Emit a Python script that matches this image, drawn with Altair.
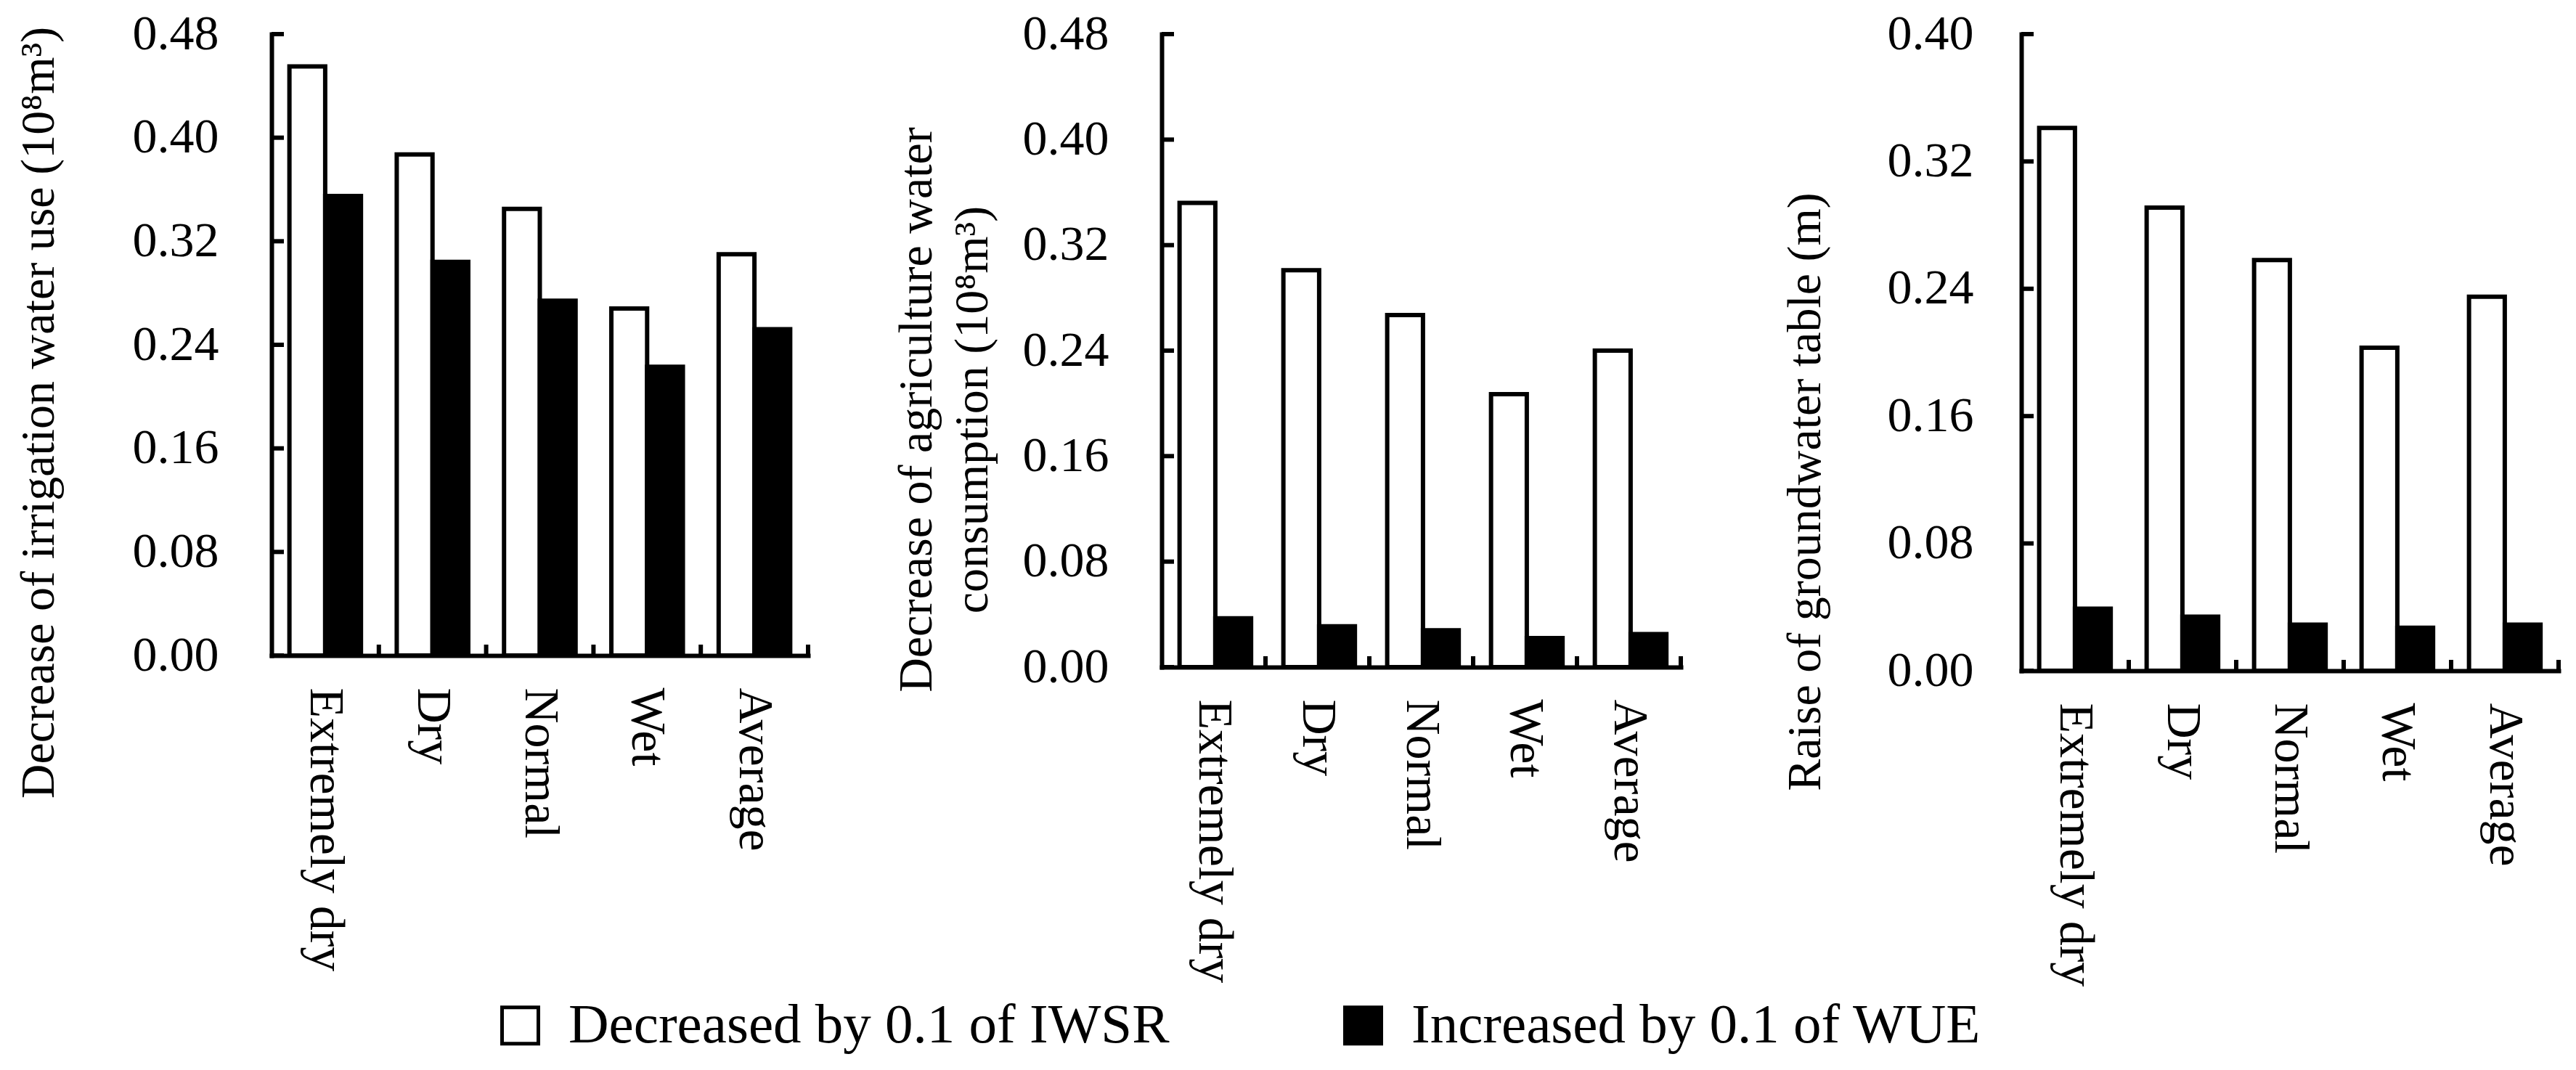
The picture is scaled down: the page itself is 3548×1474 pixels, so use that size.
import altair as alt
import pandas as pd

categories = ["Extremely dry", "Dry", "Normal", "Wet", "Average"]
series = ["Decreased by 0.1 of IWSR", "Increased by 0.1 of WUE"]

irrigation_iwsr = [0.455, 0.387, 0.345, 0.268, 0.310]
irrigation_wue = [0.355, 0.304, 0.274, 0.223, 0.252]
consumption_iwsr = [0.352, 0.301, 0.267, 0.207, 0.240]
consumption_wue = [0.037, 0.031, 0.028, 0.022, 0.025]
groundwater_iwsr = [0.341, 0.291, 0.258, 0.203, 0.235]
groundwater_wue = [0.039, 0.034, 0.029, 0.027, 0.029]

ticks_048 = [0.0, 0.08, 0.16, 0.24, 0.32, 0.40, 0.48]
ticks_040 = [0.0, 0.08, 0.16, 0.24, 0.32, 0.40]

title_1 = "Decrease of irrigation water use (10\u2078m\u00b3)"
title_2 = ["Decrease of agriculture water", "consumption (10\u2078m\u00b3)"]
title_3 = "Raise of groundwater table  (m)"

FONT = "Liberation Serif"

legend = alt.Legend(
    title=None, orient="none", legendX=304, legendY=1327, direction="horizontal",
    symbolType="square", symbolSize=2500, symbolStrokeColor="black", symbolStrokeWidth=5,
    labelFont=FONT, labelFontSize=77, labelColor="black", labelOffset=28, labelLimit=3000,
    columnPadding=228, symbolOpacity=1,
)


def panel(iwsr, wue, ticks, ymax, title, width, height, title_x, title_y, label_pad):
    df = pd.DataFrame({
        "category": categories * 2,
        "series": [series[0]] * len(categories) + [series[1]] * len(categories),
        "value": list(iwsr) + list(wue),
    })
    xscale = alt.Scale(paddingInner=0, paddingOuter=0)
    yscale = alt.Scale(domain=[0, ymax], nice=False, zero=True)
    xaxis = alt.Axis(title=None, labelAngle=90, labelAlign="left", labelBaseline="middle",
                     ticks=False, tickSize=0, labelPadding=44, labelFont=FONT,
                     labelFontSize=68, labelColor="black", labelLimit=3000,
                     domainColor="black", domainWidth=6, domainCap="square", grid=False)
    yaxis = alt.Axis(values=ticks, format=".2f", title=title, titleX=title_x,
                     titleY=title_y, titleBaseline="alphabetic", titleFont=FONT,
                     titleFontSize=66, titleFontWeight="normal", titleColor="black",
                     titleLineHeight=77, titleLimit=3000, ticks=False, tickSize=0,
                     labelPadding=label_pad, labelFont=FONT, labelFontSize=68,
                     labelColor="black", domainColor="black", domainWidth=6,
                     domainCap="square", grid=False)
    bars = alt.Chart(df).mark_bar(stroke="black", strokeWidth=6, strokeJoin="miter").encode(
        x=alt.X("category:N", sort=categories, scale=xscale, axis=xaxis),
        xOffset=alt.XOffset("series:N", sort=series,
                            scale=alt.Scale(paddingOuter=0.5, paddingInner=0)),
        y=alt.Y("value:Q", scale=yscale, axis=yaxis),
        color=alt.Color("series:N", sort=series,
                        scale=alt.Scale(domain=series, range=["white", "black"]),
                        legend=legend),
    )
    ytick_df = pd.DataFrame({"value": ticks})
    yticks = alt.Chart(ytick_df).mark_rule(color="black", strokeWidth=6).encode(
        y=alt.Y("value:Q", scale=yscale, axis=yaxis),
        x=alt.value(0), x2=alt.value(17),
    )
    xtick_df = pd.DataFrame({"category": categories})
    xticks = alt.Chart(xtick_df).mark_rule(color="black", strokeWidth=6).encode(
        x=alt.X("category:N", sort=categories, scale=xscale, bandPosition=1, axis=xaxis),
        y=alt.value(height), y2=alt.value(height - 15),
    )
    return alt.layer(bars, yticks, xticks).properties(width=width, height=height)


p1 = panel(irrigation_iwsr, irrigation_wue, ticks_048, 0.48, title_1, 739, 856, -301, 521, 73)
p2 = panel(consumption_iwsr, consumption_wue, ticks_048, 0.48, title_2, 715, 872, -318, 517, 73)
p3 = panel(groundwater_iwsr, groundwater_wue, ticks_040, 0.40, title_3, 740, 877, -278, 630, 66)

left = alt.hconcat(p1, p2, spacing=112)
chart = alt.hconcat(left, p3, spacing=135).resolve_scale(color="shared").properties(
    padding={"left": 11, "top": 5, "right": 5, "bottom": 5}
).configure(background="white").configure_view(stroke="transparent", strokeWidth=0)

chart.save("out.html", embed_options={"renderer": "svg", "actions": False})
